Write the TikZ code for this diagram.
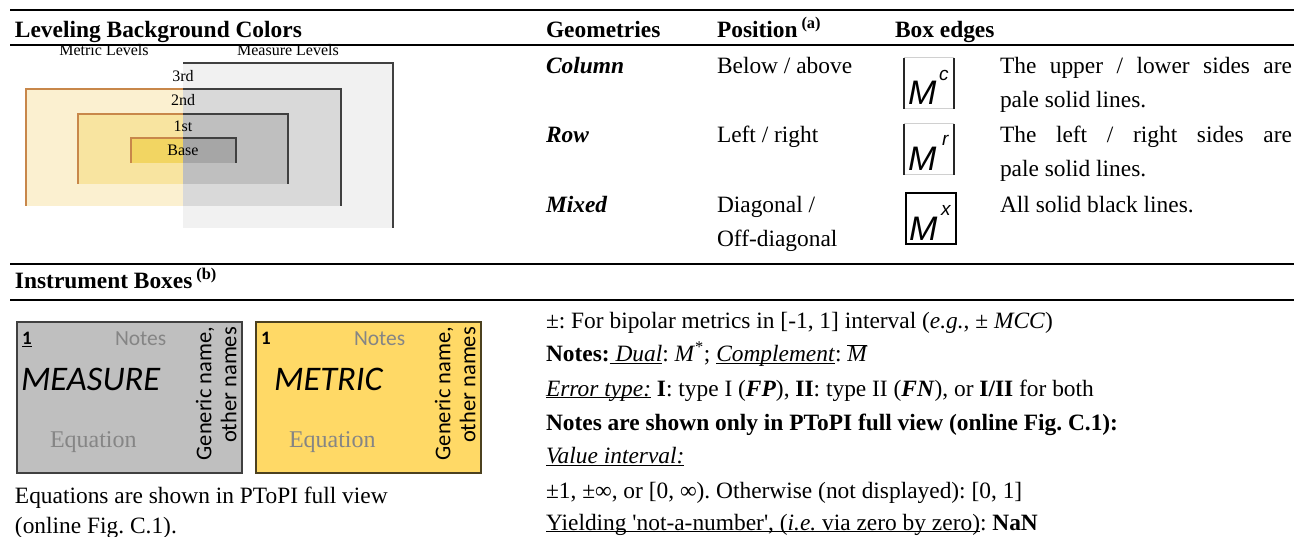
\documentclass[tikz,border=0pt]{standalone}
\usepackage{fontspec}
\setmainfont{Liberation Serif}
\newfontfamily\carl{Carlito}
\newfontfamily\arl{Liberation Sans}
\frenchspacing
\newcommand\ulx[1]{\underline{\smash{#1}}}
\definecolor{metA}{HTML}{FBF0D0}
\definecolor{metB}{HTML}{F8E4A0}
\definecolor{metC}{HTML}{F2D562}
\definecolor{meaA}{HTML}{F1F1F1}
\definecolor{meaB}{HTML}{D9D9D9}
\definecolor{meaC}{HTML}{BFBFBF}
\definecolor{meaD}{HTML}{A6A6A6}
\definecolor{metbrd}{HTML}{C8874A}
\definecolor{meabrd}{HTML}{404040}
\definecolor{palebrd}{HTML}{D0D0D0}
\definecolor{boxgray}{HTML}{BFBFBF}
\definecolor{boxyel}{HTML}{FFD966}
\definecolor{notegray}{HTML}{858585}
\begin{document}
\begin{tikzpicture}[x=1pt,y=-1pt,
  every node/.style={inner sep=0pt, outer sep=0pt},
  body/.style={anchor=base west, font=\fontsize{23.4}{28}\selectfont},
  bodyb/.style={anchor=base west, font=\fontsize{23.4}{28}\selectfont\bfseries},
  bodybi/.style={anchor=base west, font=\fontsize{23.4}{28}\selectfont\bfseries\itshape},
  lvl/.style={anchor=base, font=\fontsize{16}{19}\selectfont},
  rule/.style={line width=1.8pt},
  metline/.style={draw=metbrd, line width=1.3pt},
  mealine/.style={draw=meabrd, line width=1.3pt},
  mglyph/.style={anchor=base west, font=\fontsize{34}{38}\selectfont\arl\itshape},
  msup/.style={anchor=base west, font=\fontsize{19}{22}\selectfont\arl\itshape},
  instbox/.style={anchor=north west, minimum width=225pt, minimum height=151pt, line width=1.3pt},
  num/.style={anchor=base west, font=\fontsize{19}{22}\selectfont\carl\bfseries},
  notes/.style={anchor=base west, font=\fontsize{21.5}{25}\selectfont\carl, text=notegray},
  big/.style={anchor=base west, font=\fontsize{34.5}{40}\selectfont\carl\itshape},
  eqn/.style={anchor=base west, font=\fontsize{24}{28}\selectfont, text=notegray},
  vert/.style={anchor=north east, rotate=90, align=right, font=\fontsize{22.5}{25}\selectfont\carl}
]
\useasboundingbox (0,0) rectangle (1294,537);
% rules
\coordinate (r1a) at (10,10);   \coordinate (r1b) at (1294,10);
\coordinate (r2a) at (10,45);   \coordinate (r2b) at (1294,45);
\coordinate (r3a) at (10,264);  \coordinate (r3b) at (1294,264);
\coordinate (r4a) at (10,300);  \coordinate (r4b) at (1294,300);
\draw[rule] (r1a) -- (r1b);
\draw[rule] (r2a) -- (r2b);
\draw[rule] (r3a) -- (r3b);
\draw[rule] (r4a) -- (r4b);
% headers
\node[bodyb] (h1) at (15,38) {Leveling Background Colors};
\node[bodyb] (h2) at (546,38) {Geometries};
\node[bodyb] (h3) at (717,38) {Position\,\textsuperscript{(a)}};
\node[bodyb] (h4) at (895,38) {Box edges};
% leveling diagram
\fill[meaA] (183,63) rectangle (393,228);
\fill[meaB] (183,89) rectangle (341,206);
\fill[meaC] (183,114) rectangle (288,184);
\fill[meaD] (183,138) rectangle (236,163);
\fill[metA] (26,89) rectangle (183,206);
\fill[metB] (78,114) rectangle (183,184);
\fill[metC] (131,138) rectangle (183,163);
\draw[mealine] (183,63) -- (393,63) -- (393,228);
\draw[mealine] (183,89) -- (341,89) -- (341,206);
\draw[mealine] (183,114) -- (288,114) -- (288,184);
\draw[mealine] (183,138) -- (236,138) -- (236,163);
\draw[metline] (26,206) -- (26,89) -- (183,89);
\draw[metline] (78,184) -- (78,114) -- (183,114);
\draw[metline] (131,163) -- (131,138) -- (183,138);
\node[lvl] (lm) at (104,56) {Metric Levels};
\node[lvl] (lr) at (288,56) {Measure Levels};
\node[lvl] (l3) at (183,82) {3rd};
\node[lvl] (l2) at (183,106) {2nd};
\node[lvl] (l1) at (183,132) {1st};
\node[lvl] (l0) at (183,156) {Base};
% geometry rows
\node[bodybi] (g1) at (546,74) {Column};
\node[bodybi] (g2) at (546,143) {Row};
\node[bodybi] (g3) at (546,213) {Mixed};
\node[body] (p1) at (717,74) {Below / above};
\node[body] (p2) at (717,143) {Left / right};
\node[body] (p3) at (717,213) {Diagonal /};
\node[body] (p3b) at (717,247) {Off-diagonal};
% M boxes
\draw[palebrd, line width=1pt] (904,58) -- (954,58);
\draw[palebrd, line width=1pt] (904,109) -- (954,109);
\draw[black!85, line width=1.6pt] (904,58) -- (904,109);
\draw[black!85, line width=1.6pt] (954,58) -- (954,109);
\node[mglyph] (m1) at (908,105) {M};
\node[msup] (s1) at (939,81) {c};
\draw[palebrd, line width=1pt] (904,124) -- (954,124);
\draw[palebrd, line width=1pt] (904,175) -- (954,175);
\draw[black!85, line width=1.6pt] (904,124) -- (904,175);
\draw[black!85, line width=1.6pt] (954,124) -- (954,175);
\node[mglyph] (m2) at (908,171) {M};
\node[msup] (s2) at (942,146) {r};
\draw[black, line width=1.8pt] (906,193) rectangle (956,244);
\node[mglyph] (m3) at (909,241) {M};
\node[msup] (s3) at (941,216) {x};
% descriptions
\node[body] (d1) at (1000,74) {\hbox to 292pt{The\hfill upper\hfill /\hfill lower\hfill sides\hfill are}};
\node[body] (d1b) at (1000,108) {pale solid lines.};
\node[body] (d2) at (1000,143) {\hbox to 292pt{The\hfill left\hfill /\hfill right\hfill sides\hfill are}};
\node[body] (d2b) at (1000,177) {pale solid lines.};
\node[body] (d3) at (1000,213) {All solid black lines.};
% instrument boxes
\node[bodyb] (h5) at (15,289) {Instrument Boxes\,\textsuperscript{(b)}};
\node[instbox, draw=meabrd, fill=boxgray] (measbox) at (17,322) {};
\node[instbox, draw=black!70!boxyel, fill=boxyel] (metbox) at (256,322) {};
\node[num] (n1) at (22,345) {\underline{1}};
\node[notes] (no1) at (115,346) {Notes};
\node[big] (bm1) at (21,391) {MEASURE};
\node[eqn] (e1) at (50,447) {Equation};
\node[vert] (v1) at (196,327) {Generic name,\\other names};
\node[num] (n2) at (261,345) {1};
\node[notes] (no2) at (354,346) {Notes};
\node[big] (bm2) at (274,391) {METRIC};
\node[eqn] (e2) at (289,447) {Equation};
\node[vert] (v2) at (435,327) {Generic name,\\other names};
\node[body] (c1) at (15,503) {Equations are shown in PToPI full view};
\node[body] (c2) at (15,533) {(online Fig. C.1).};
% legend text
\node[body] (t1) at (546,329) {±: For bipolar metrics in [-1, 1] interval (\textit{e.g.}, ± \textit{MCC})};
\node[body] (t2) at (546,362) {\textbf{Notes:}\ulx{ \textit{Dual}}: \textit{M}\textsuperscript{*}; \ulx{\textit{Complement}}: $\overline{\hbox{\itshape M}}$};
\node[body] (t3) at (546,396) {\ulx{\textit{Error type:}} \textbf{I}: type I (\textbf{\textit{FP}}), \textbf{II}: type II (\textbf{\textit{FN}}), or \textbf{I/II} for both};
\node[bodyb] (t4) at (546,430) {Notes are shown only in PToPI full view (online Fig. C.1):};
\node[body] (t5) at (546,464) {\ulx{\textit{Value interval:}}};
\node[body] (t6) at (546,498) {±1, ±∞, or [0, ∞). Otherwise (not displayed): [0, 1]};
\node[body] (t7) at (546,530) {\ulx{Yielding \textquotesingle not-a-number\textquotesingle, (\textit{i.e.} via zero by zero)}: \textbf{NaN}};
\end{tikzpicture}
\end{document}
